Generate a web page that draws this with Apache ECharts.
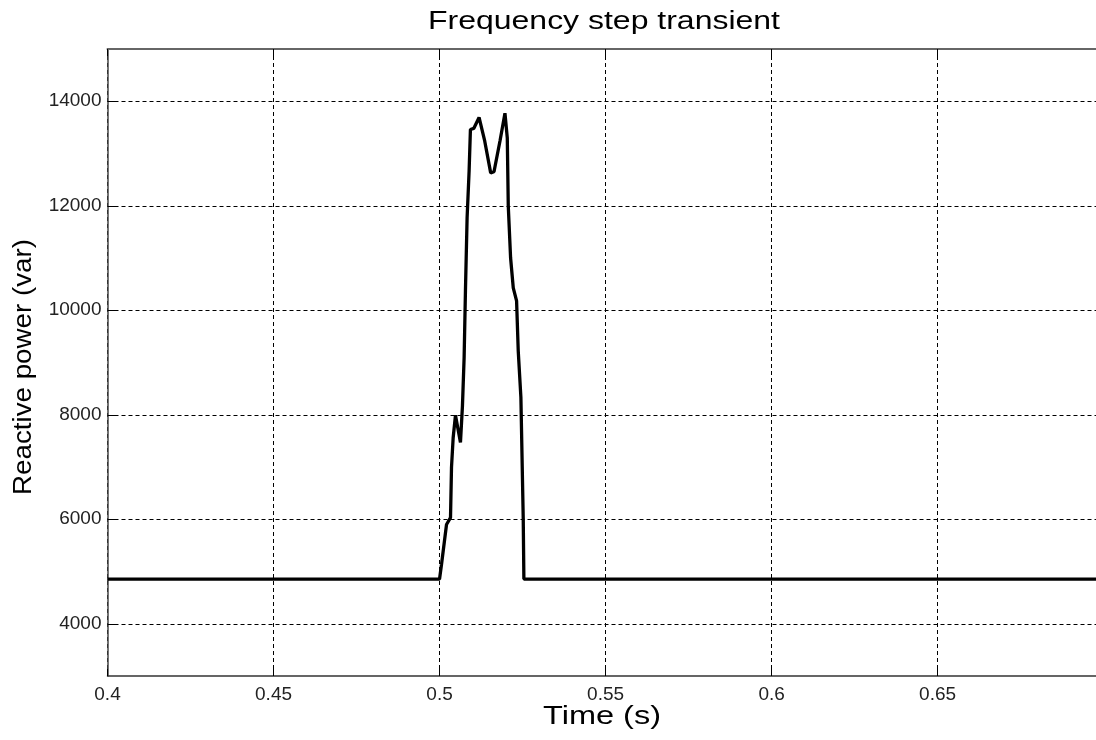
<!DOCTYPE html>
<html>
<head>
<meta charset="utf-8">
<script src="https://cdn.jsdelivr.net/npm/echarts@6/dist/echarts.min.js"></script>
<style>html,body{margin:0;padding:0;background:#fff}#c{width:1096px;height:740px}</style>
</head>
<body>
<div id="c"></div>
<script>
const timeS = [0.40, 0.5000, 0.5006, 0.5021, 0.5033, 0.5036, 0.5041, 0.5048, 0.5063, 0.5069, 0.5074, 0.5078, 0.5083, 0.5089, 0.5093, 0.5103, 0.5119, 0.5136, 0.5154, 0.5164, 0.5182, 0.5197, 0.5204, 0.5207, 0.5214, 0.5222, 0.5232, 0.5237, 0.5245, 0.5252, 0.5254, 0.6977];
const reactivePower = [4855, 4855, 5140, 5900, 6030, 6990, 7560, 7990, 7470, 8170, 9090, 10370, 11770, 12660, 13460, 13480, 13690, 13240, 12630, 12650, 13240, 13770, 13300, 11990, 11000, 10430, 10180, 9220, 8330, 6030, 4855, 4855];
const xTicks = [0.4, 0.45, 0.5, 0.55, 0.6, 0.65];
const yTicks = [4000, 6000, 8000, 10000, 12000, 14000];
const titleText = 'Frequency step transient';
const xName = 'Time (s)';
const yName = 'Reactive power (var)';

const chart = echarts.init(document.getElementById('c'), null, {renderer: 'canvas'});
const gridDash = {color: '#000', width: 1, type: [4, 3]};
const tickFont = {color: '#222', fontFamily: 'Liberation Sans, Arial, sans-serif', fontSize: 19};
const option = {
  animation: false,
  backgroundColor: '#fff',
  grid: {left: 107.5, top: 49, right: 0, height: 627},
  xAxis: [{
    type: 'value', min: 0.4, max: 0.6977,
    axisLine: {show: true, lineStyle: {color: '#333', width: 1.5}},
    axisTick: {show: true, inside: true, length: 7, customValues: xTicks, lineStyle: {color: '#000'}},
    axisLabel: Object.assign({margin: 9, customValues: xTicks, formatter: v => String(+(+v).toFixed(2))}, tickFont),
    splitLine: {show: true, lineStyle: gridDash}
  }, {
    type: 'value', position: 'top', min: 0.4, max: 0.6977,
    axisLine: {show: true, onZero: false, lineStyle: {color: '#666', width: 2}},
    axisTick: {show: true, inside: true, length: 7, customValues: xTicks, lineStyle: {color: '#000'}},
    axisLabel: {show: false},
    splitLine: {show: false}
  }],
  yAxis: {
    type: 'value', min: 3000, max: 15000,
    axisLine: {show: true, lineStyle: {color: '#444', width: 1.5}},
    axisTick: {show: true, inside: true, length: 8, customValues: yTicks, lineStyle: {color: '#000'}},
    axisLabel: Object.assign({margin: 6, customValues: yTicks, formatter: v => String(v)}, tickFont),
    splitLine: {show: true, lineStyle: gridDash}
  },
  series: [{
    type: 'line',
    data: timeS.map((t, i) => [t, reactivePower[i]]),
    showSymbol: false,
    lineStyle: {color: '#000', width: 3.3},
    clip: true
  }],
  graphic: [
    {type: 'text', x: 604, y: 22, scaleX: 1.23,
      style: {text: titleText, font: '26px "Liberation Sans", Arial, sans-serif', fill: '#000', textAlign: 'center', textVerticalAlign: 'middle'}},
    {type: 'text', x: 602, y: 717, scaleX: 1.25,
      style: {text: xName, font: '26px "Liberation Sans", Arial, sans-serif', fill: '#000', textAlign: 'center', textVerticalAlign: 'middle'}},
    {type: 'text', x: 24, y: 367, rotation: Math.PI / 2, scaleX: 1.11,
      style: {text: yName, font: '25px "Liberation Sans", Arial, sans-serif', fill: '#000', textAlign: 'center', textVerticalAlign: 'middle'}}
  ]
};
chart.setOption(option);
</script>
</body>
</html>
